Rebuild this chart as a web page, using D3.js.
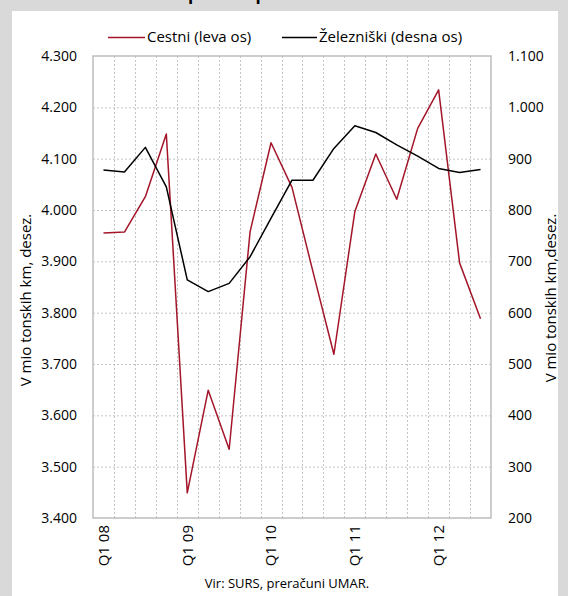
<!DOCTYPE html>
<html>
<head>
<meta charset="utf-8">
<script src="https://cdn.jsdelivr.net/npm/d3@7"></script>
<style>
  body { margin: 0; background: #d9d9d9; }
  svg { display: block; font-family: "Open Sans", sans-serif; }
</style>
</head>
<body>
<svg id="chart" width="568" height="596"></svg>
<script>
// quarters Q1 08 .. Q3 12
var quarters = ["Q1 08","Q2 08","Q3 08","Q4 08","Q1 09","Q2 09","Q3 09","Q4 09",
                "Q1 10","Q2 10","Q3 10","Q4 10","Q1 11","Q2 11","Q3 11","Q4 11",
                "Q1 12","Q2 12","Q3 12"];
// road transport, left axis
var cestni = [3955, 3957, 4026, 4148, 3449, 3649, 3534, 3958, 4131, 4044,
              3880, 3719, 3997, 4109, 4021, 4159, 4234, 3897, 3788];
// rail transport, right axis
var zelezniski = [878, 874, 922, 845, 664, 641, 657, 709, 784, 858,
                  858, 920, 964, 951, 927, 905, 881, 873, 879];
var leftTicks = [3400, 3500, 3600, 3700, 3800, 3900, 4000, 4100, 4200, 4300];
var rightTicks = [200, 300, 400, 500, 600, 700, 800, 900, 1000, 1100];
var seriesNames = ["Cestni (leva os)", "Železniški (desna os)"];

var svg = d3.select("#chart");
var fmt = d3.formatLocale({decimal: ",", thousands: ".", grouping: [3], currency: ["", ""]}).format(",");

var margin = {left: 93, right: 491, top: 56, bottom: 518};
var red = "#a3162a";

// background + white panel
svg.append("rect").attr("width", 568).attr("height", 596).attr("fill", "#d9d9d9");
svg.append("rect").attr("x", 12).attr("y", 11).attr("width", 546).attr("height", 600).attr("fill", "#fff");

// title (cut off at the top, as in the source picture)
svg.append("text")
  .attr("x", 285).attr("y", 0)
  .attr("text-anchor", "middle")
  .style("font-weight", "bold").style("font-size", "17px")
  .text("Tovorni promet po cestah in železnicah");

var x = d3.scaleBand()
  .domain(quarters)
  .range([margin.left, margin.right])
  .padding(0);
var yL = d3.scaleLinear().domain([3400, 4300]).range([margin.bottom, margin.top]);
var yR = d3.scaleLinear().domain([200, 1100]).range([margin.bottom, margin.top]);

// gridlines
var grid = svg.append("g").attr("stroke", "#c4c4c4").attr("stroke-dasharray", "2,2").attr("stroke-width", 1);
grid.selectAll(".hg")
  .data(leftTicks.slice(1, -1))
  .enter().append("line")
  .attr("x1", margin.left).attr("x2", margin.right)
  .attr("y1", function(d) { return yL(d) + 0.5; })
  .attr("y2", function(d) { return yL(d) + 0.5; });
grid.selectAll(".vg")
  .data(quarters.slice(1))
  .enter().append("line")
  .attr("y1", margin.top).attr("y2", margin.bottom)
  .attr("x1", function(d) { return Math.round(x(d)) + 0.5; })
  .attr("x2", function(d) { return Math.round(x(d)) + 0.5; });

// plot border
svg.append("rect")
  .attr("x", margin.left).attr("y", margin.top)
  .attr("width", margin.right - margin.left).attr("height", margin.bottom - margin.top)
  .attr("fill", "none").attr("stroke", "#bdbdbd").attr("stroke-width", 1.5);

// axes
var yAxisL = d3.axisLeft(yL).tickValues(leftTicks).tickFormat(fmt).tickSize(0).tickPadding(16);
var yAxisR = d3.axisRight(yR).tickValues(rightTicks).tickFormat(fmt).tickSize(0).tickPadding(17);

var gl = svg.append("g").attr("transform", "translate(" + margin.left + ",0)").call(yAxisL);
var gr = svg.append("g").attr("transform", "translate(" + margin.right + ",0)").call(yAxisR);
[gl, gr].forEach(function(g) {
  g.select(".domain").remove();
  g.selectAll("text").style("font-size", "14px").style("font-family", "'Open Sans', sans-serif").attr("fill", "#000");
});

// x labels, only first quarters
svg.append("g").selectAll("text")
  .data(quarters.filter(function(q) { return q.indexOf("Q1") === 0; }))
  .enter().append("text")
  .attr("transform", function(d) {
    return "translate(" + (x(d) + x.bandwidth() / 2) + ",525) rotate(-90)";
  })
  .attr("text-anchor", "end")
  .attr("dy", "0.35em")
  .style("font-size", "15px")
  .text(function(d) { return d; });

// axis titles
svg.append("text")
  .attr("transform", "translate(26,300) rotate(-90)")
  .attr("text-anchor", "middle").attr("dy", "0.35em")
  .style("font-size", "15px")
  .text("V mio tonskih km, desez.");
svg.append("text")
  .attr("transform", "translate(551,298) rotate(-90)")
  .attr("text-anchor", "middle").attr("dy", "0.35em")
  .style("font-size", "15px")
  .text("V mio tonskih km,desez.");

// source
svg.append("text")
  .attr("x", 287).attr("y", 583)
  .attr("text-anchor", "middle").attr("dy", "0.35em")
  .style("font-size", "13px")
  .text("Vir: SURS, preračuni UMAR.");

// lines
var lineL = d3.line()
  .x(function(d, i) { return x(quarters[i]) + x.bandwidth() / 2; })
  .y(function(d) { return yL(d); });
var lineR = d3.line()
  .x(function(d, i) { return x(quarters[i]) + x.bandwidth() / 2; })
  .y(function(d) { return yR(d); });

svg.append("path")
  .datum(cestni)
  .attr("fill", "none").attr("stroke", red).attr("stroke-width", 1.5)
  .attr("stroke-linejoin", "round")
  .attr("d", lineL);
svg.append("path")
  .datum(zelezniski)
  .attr("fill", "none").attr("stroke", "#000").attr("stroke-width", 1.5)
  .attr("stroke-linejoin", "round")
  .attr("d", lineR);

// legend
var legend = [
  {name: seriesNames[0], color: red, x1: 108, x2: 145},
  {name: seriesNames[1], color: "#000", x1: 282, x2: 317}
];
var lg = svg.append("g").selectAll("g").data(legend).enter().append("g");
lg.append("line")
  .attr("x1", function(d) { return d.x1; }).attr("x2", function(d) { return d.x2; })
  .attr("y1", 37.5).attr("y2", 37.5)
  .attr("stroke", function(d) { return d.color; }).attr("stroke-width", 1.5);
lg.append("text")
  .attr("x", function(d) { return d.x2 + 2; }).attr("y", 37)
  .attr("dy", "0.35em")
  .style("font-size", "15px")
  .text(function(d) { return d.name; });
</script>
</body>
</html>
